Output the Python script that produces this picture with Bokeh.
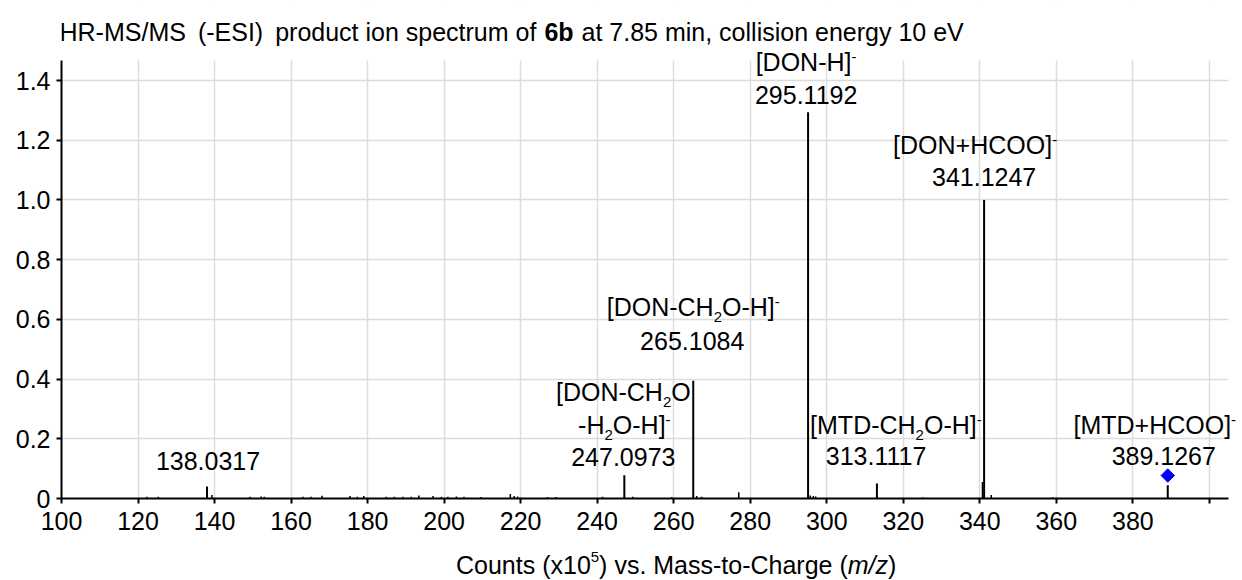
import math

from bokeh.plotting import figure
from bokeh.layouts import column
from bokeh.models import Range1d, FixedTicker, PrintfTickFormatter, Label, BoxAnnotation
from bokeh.embed import file_html
from bokeh.resources import INLINE

# Labelled product ions: m/z and abundance (counts x10^5)
ion_mz = [138.0317, 247.0973, 265.1084, 295.1192, 313.1117, 341.1247, 389.1267]
ion_counts = [0.040, 0.078, 0.394, 1.294, 0.050, 1.000, 0.044]
# "_x" = subscript character, "^x" = superscript character, "\n" = new line
ion_names = ["", "[DON-CH_2O\n-H_2O-H]^-", "[DON-CH_2O-H]^-", "[DON-H]^-",
             "[MTD-CH_2O-H]^-", "[DON+HCOO]^-", "[MTD+HCOO]^-"]

# Minor, unlabelled signals
minor_mz = [122.3, 125.3, 139.3, 149.3, 152.2, 153.0, 163.1, 165.2, 168.1, 175.4,
            177.3, 179.0, 184.9, 187.0, 189.2, 191.4, 193.4, 197.1, 199.3, 201.0,
            203.2, 205.2, 209.6, 217.3, 218.3, 219.2, 227.0, 229.2, 241.4, 249.3,
            259.5, 266.0, 267.3, 277.0, 295.7, 296.5, 297.1, 325.1, 340.7, 343.0,
            359.1]
minor_counts = [0.006, 0.006, 0.012, 0.006, 0.007, 0.006, 0.006, 0.006, 0.009, 0.008,
                0.006, 0.008, 0.006, 0.006, 0.006, 0.006, 0.010, 0.008, 0.006, 0.006,
                0.007, 0.006, 0.005, 0.015, 0.008, 0.007, 0.005, 0.005, 0.006, 0.006,
                0.005, 0.008, 0.006, 0.021, 0.010, 0.008, 0.007, 0.004, 0.055, 0.012,
                0.004]

precursor_index = 6          # [MTD+HCOO]- is the selected precursor
x_ticks = list(range(100, 401, 20))
y_ticks = [0, 0.2, 0.4, 0.6, 0.8, 1.0, 1.2, 1.4]

FONT = "Liberation Sans"
FS = 25.0  # base font size, px

# baseline (counts) and horizontal nudge (px) for each text line of a peak label:
# name lines first, the m/z value last
label_layout = [
    [(0.096, 1)],
    [(0.3255, -1), (0.216, 0), (0.107, -1)],
    [(0.6095, 0), (0.4957, -1)],
    [(1.431, -2), (1.322, -1)],
    [(0.2167, 19), (0.1105, 1)],
    [(1.152, -9), (1.046, 0)],
    [(0.2167, -13), (0.1105, -4)],
]

# Arial / Liberation Sans advance widths (1/1000 em)
ADV = {' ': 278, '!': 278, '(': 333, ')': 333, '+': 584, ',': 278, '-': 333, '.': 278,
       '/': 278, '[': 278, ']': 278,
       'A': 667, 'B': 667, 'C': 722, 'D': 722, 'E': 667, 'F': 611, 'G': 778, 'H': 722,
       'I': 278, 'J': 500, 'K': 667, 'L': 556, 'M': 833, 'N': 722, 'O': 778, 'P': 667,
       'Q': 778, 'R': 722, 'S': 667, 'T': 611, 'U': 722, 'V': 667, 'W': 944, 'X': 667,
       'Y': 667, 'Z': 611,
       'a': 556, 'b': 556, 'c': 500, 'd': 556, 'e': 556, 'f': 278, 'g': 556, 'h': 556,
       'i': 222, 'j': 222, 'k': 500, 'l': 222, 'm': 833, 'n': 556, 'o': 556, 'p': 556,
       'q': 556, 'r': 333, 's': 500, 't': 278, 'u': 556, 'v': 500, 'w': 722, 'x': 500,
       'y': 500, 'z': 500}
for d in "0123456789":
    ADV[d] = 556
ADV_BOLD = dict(ADV, b=611)

SMALL = 0.6                          # size of sub/superscripts
SHIFT = {"sub": -0.26, "sup": 0.35, "sup_hi": 0.44}
BASELINE_FIX = 0.37                  # Label "alphabetic" anchor sits this far (em) too low


def seg_width(text, kind):
    table = ADV_BOLD if kind == "bold" else ADV
    size = FS * SMALL if kind in SHIFT else FS
    return sum(table.get(c, 556) for c in text) * size / 1000.0


def parse(line):
    segs, buf, i = [], "", 0
    while i < len(line):
        c = line[i]
        if c in "_^" and i + 1 < len(line):
            if buf:
                segs.append((buf, "normal"))
                buf = ""
            segs.append((line[i + 1], "sub" if c == "_" else "sup"))
            i += 2
        else:
            buf += c
            i += 1
    if buf:
        segs.append((buf, "normal"))
    return segs


def put_line(plot, parts, x, y, dx, dy=0.0, align="center", gaps=None):
    """Lay out mixed-style text pieces side by side as Labels."""
    widths = [seg_width(t, k) for t, k in parts]
    gaps = gaps or [0.0] * len(parts)
    total = sum(widths) + sum(gaps[:-1])
    cur = dx - total / 2.0 if align == "center" else dx
    for (t, kind), w, g in zip(parts, widths, gaps):
        size = FS * SMALL if kind in SHIFT else FS
        style = {"bold": "bold", "italic": "italic"}.get(kind, "normal")
        plot.add_layout(Label(
            x=x, y=y, x_offset=cur,
            y_offset=dy + SHIFT.get(kind, 0.0) * FS + BASELINE_FIX * size,
            text=t, text_font=FONT, text_font_size=f"{size:.1f}px",
            text_font_style=style, text_color="black",
            text_align="left", text_baseline="alphabetic"))
        cur += w + g


# axis extents and the (slightly larger) visible ranges, so that texts above
# and right of the axes stay inside the drawing area
x_lo, x_hi = 100, 405
y_lo, y_hi = 0, 1.467
FRAME_W, FRAME_H = 1167, 438          # axis lengths in px
PAD_R, PAD_T = 14, 60                 # extra drawing room right / above
x_view = x_hi + PAD_R * (x_hi - x_lo) / FRAME_W
y_view = y_hi + PAD_T * (y_hi - y_lo) / FRAME_H

p = figure(width=1242, height=548, output_backend="svg", toolbar_location=None,
           x_range=Range1d(x_lo, x_view), y_range=Range1d(y_lo, y_view),
           min_border_left=61, min_border_right=0, min_border_top=0,
           min_border_bottom=50)
p.title.visible = False
p.outline_line_color = None
p.background_fill_color = "white"
p.border_fill_color = "white"

# grid
for g in (p.xgrid, p.ygrid):
    g.grid_line_color = "#dcdcdc"
    g.grid_line_width = 1.5
p.xgrid.ticker = FixedTicker(ticks=x_ticks)
p.ygrid.ticker = FixedTicker(ticks=y_ticks)
# keep the grid inside the axis extents
for box in (BoxAnnotation(bottom=y_hi), BoxAnnotation(left=x_hi)):
    box.fill_color = "white"
    box.fill_alpha = 1.0
    box.line_alpha = 0.0
    box.level = "underlay"
    p.add_layout(box)

# axes
for ax in (p.xaxis, p.yaxis):
    ax.axis_line_color = "black"
    ax.axis_line_width = 2
    ax.major_tick_line_color = "black"
    ax.major_tick_line_width = 2
    ax.major_tick_out = 5
    ax.major_tick_in = 0
    ax.minor_tick_line_color = None
    ax.major_label_text_font = FONT
    ax.major_label_text_font_size = f"{FS:.0f}px"
    ax.major_label_text_color = "black"
p.xaxis.bounds = (x_lo, x_hi)
p.yaxis.bounds = (y_lo, y_hi)
p.xaxis.ticker = FixedTicker(ticks=x_ticks)
p.xaxis.major_label_overrides = {400: ""}
p.xaxis.major_label_standoff = 8
p.yaxis.ticker = FixedTicker(ticks=y_ticks)
p.yaxis.formatter = PrintfTickFormatter(format="%.1f")
p.yaxis.major_label_overrides = {0: "0"}
p.yaxis.major_label_standoff = 6

# spectrum sticks
p.segment(x0=minor_mz, y0=[0] * len(minor_mz), x1=minor_mz, y1=minor_counts,
          line_color="black", line_width=1.5)
p.segment(x0=ion_mz, y0=[0] * len(ion_mz), x1=ion_mz, y1=ion_counts,
          line_color="black", line_width=2)

# precursor marker: blue diamond just above its stick
marker_gap = 0.033
p.scatter(x=[ion_mz[precursor_index]], y=[ion_counts[precursor_index] + marker_gap],
          marker="square", angle=math.pi / 4, size=9.5,
          fill_color="#0000ff", line_color="#0000ff")

# peak annotations
for mz, name, layout in zip(ion_mz, ion_names, label_layout):
    lines = (name.split("\n") if name else []) + [f"{mz:.4f}"]
    for text, (yb, dx) in zip(lines, layout):
        put_line(p, parse(text), mz, yb, dx)

# title (with bold compound number)
title_parts = [("HR-MS/MS", "normal"), ("(-ESI)", "normal"),
               ("product ion spectrum of", "normal"), ("6b", "bold"),
               ("at 7.85 min, collision energy 10 eV", "normal")]
put_line(p, title_parts, x_lo, y_hi, -2, dy=19, align="left", gaps=[12, 12, 8, 8, 0])

# x-axis caption, in a strip below the plot sharing the plot's m/z scale
cap = figure(width=1242, height=32, output_backend="svg", toolbar_location=None,
             x_range=p.x_range, y_range=Range1d(0, 32),
             x_axis_type=None, y_axis_type=None, min_border=0,
             min_border_left=61, min_border_right=0)
cap.title.visible = False
cap.outline_line_color = None
cap.xgrid.visible = False
cap.ygrid.visible = False
caption_parts = [("Counts (x10", "normal"), ("5", "sup_hi"),
                 (") vs. Mass-to-Charge (", "normal"), ("m/z", "italic"), (")", "normal")]
put_line(cap, caption_parts, x_lo, 6.7, 394.5, align="left")

layout = column(p, cap, spacing=0)
open("out.html", "w").write(file_html(layout, INLINE))
